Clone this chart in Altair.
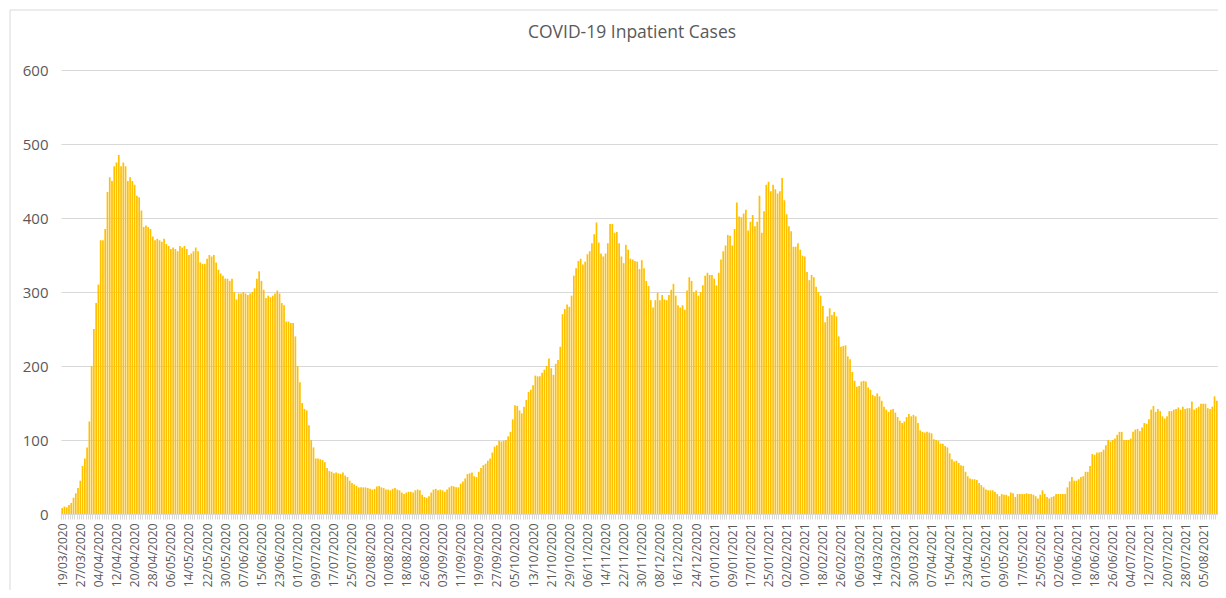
import json
import altair as alt
import pandas as pd

# ---- data (daily inpatient cases) ----
start_date = "2020-03-19"
chart_title = "COVID-19 Inpatient Cases"

cases_wave1 = [
    8, 10, 9, 12, 15, 22, 28, 35, 45, 65,
    75, 90, 125, 200, 250, 285, 310, 370, 370, 385,
    435, 455, 450, 470, 475, 485, 470, 475, 470, 450,
    455, 450, 445, 430, 428, 410, 388, 390, 388, 385,
    375, 370, 372, 370, 368, 372, 365, 362, 358, 360,
    358, 355, 362, 360, 362, 358, 350, 352, 355, 360,
    355, 340, 338, 338, 345, 350, 348, 350, 340, 330,
    325, 322, 318, 318, 315, 318, 300, 290, 298, 298,
    300, 298, 296, 298, 300, 305, 318, 328, 315, 303,
    292, 295, 293, 295, 298, 302, 298, 285, 282, 260,
    260, 258, 258, 240, 200, 178, 150, 142, 140, 120,
    100, 90, 75, 75, 74, 73, 70, 62, 58, 57,
    55, 56, 55, 54, 56, 52, 50, 45, 42, 40,
    38, 36, 36, 36,
]

cases_summer_2020 = [
    36, 35, 34, 33, 34, 37, 38, 36, 35, 33,
    33, 32, 34, 35, 33, 32, 29, 27, 29, 30,
    30, 29, 32, 33, 32, 26, 23, 22, 24, 29,
    33, 34, 32, 33, 32, 30, 33, 36, 38, 37, 36,
    36, 41, 44, 48, 54, 55, 56, 51, 50, 57,
    62, 66, 68, 72, 75, 83, 91, 93, 99, 98,
    99, 100, 105, 111, 128, 147, 146, 140, 136, 145, 154,
    165, 168, 174, 187, 186, 186, 191, 195, 200, 210,
    197, 188, 203, 208, 226,
]

cases_nov_2020 = [
    270, 277, 283, 280, 295, 322, 332, 342, 345, 337,
    341, 351, 355, 366, 378, 394, 367, 352, 348, 352,
    366, 392, 392, 380, 381, 366, 348, 339, 364, 357,
    345, 344,
]

cases_winter = [
    342, 341, 331, 343, 332, 315, 308, 289, 279, 289,
    299, 289, 296, 290, 289, 296, 303, 311, 295, 282,
    279, 282, 276, 302, 320, 315, 300, 302, 295, 300,
    309, 322, 326, 323, 323, 318, 309, 326, 344, 355,
    363, 377, 376, 363, 385, 421, 402, 401, 406, 411,
    383, 395, 404, 389, 395, 430, 380, 409, 445, 449,
    436, 445, 439, 433, 436, 454, 424, 405, 389, 382,
    361, 361, 366, 357, 349, 348, 327, 316, 323, 320,
    307, 300, 295, 281, 259, 267, 278, 269, 273, 267,
    240, 226, 227, 228, 213, 209, 192, 180, 172, 173,
    179, 180, 179, 171, 168, 161, 159, 163, 159, 153,
    145, 141, 138, 141, 142, 137, 131, 126, 123, 125,
    131, 135, 132,
]

cases_2021 = [
    134, 132, 123, 113, 111, 110, 111, 110, 109, 101,
    100, 99, 95, 95, 92, 90, 82, 74, 71, 72,
    69, 66, 65, 57, 51, 48, 47, 47, 46, 42,
    39, 36, 33, 32, 32, 32, 30, 27, 24, 27,
    26, 26, 24, 29, 28, 23, 27, 27, 27, 27,
    28, 27, 27, 26, 24, 21, 26, 32, 27, 23,
    21, 23, 24, 27, 27, 27, 27, 27, 36, 44,
    50, 45, 45, 47, 50, 51, 57, 57, 65, 81,
    80, 83, 83, 84, 87, 93, 100, 98, 100, 102,
    107, 111, 111, 100, 100, 100, 102, 111, 114, 115,
    112, 117, 123, 122, 128, 141, 146, 138, 142, 139,
    132, 129, 132, 139, 139, 141, 142, 144, 141, 145,
    142, 143, 143, 152, 141, 143, 145, 149, 149, 149,
    143, 142, 145, 159, 153,
]

cases = cases_wave1 + cases_summer_2020 + cases_nov_2020 + cases_winter + cases_2021
dates = pd.date_range(start_date, periods=len(cases), freq="D").strftime("%d/%m/%Y").tolist()
tick_labels = dates[::8]
y_ticks = [0, 100, 200, 300, 400, 500, 600]

df = pd.DataFrame({"date": dates, "cases": cases})

TEXT = "#595959"
GRID = "#D9D9D9"
FONT = "Open Sans"

label_expr = "indexof(" + json.dumps(tick_labels) + ", datum.label) >= 0 ? datum.label : ''"

bars = alt.Chart(df).mark_bar(color="#FFC000").encode(
    x=alt.X(
        "date:O",
        sort=None,
        scale=alt.Scale(paddingInner=0.25, paddingOuter=0.15),
        axis=alt.Axis(
            title=None,
            labelAngle=270,
            labelExpr=label_expr,
            labelOverlap=False,
            labelFontSize=12,
            labelFont=FONT,
            labelColor=TEXT,
            labelPadding=4,
            tickBand="extent",
            tickColor=GRID,
            tickSize=5,
            domainColor=GRID,
            grid=False,
        ),
    ),
    y=alt.Y(
        "cases:Q",
        scale=alt.Scale(domain=[0, 600]),
        axis=alt.Axis(
            title=None,
            values=y_ticks,
            domain=False,
            ticks=False,
            gridColor=GRID,
            labelPadding=13,
            labelFontSize=15,
            labelFont=FONT,
            labelColor=TEXT,
        ),
    ),
)

dummy = pd.DataFrame({"k": [0]})
frame_left = alt.Chart(dummy).mark_rule(color=GRID, strokeWidth=1).encode(
    x=alt.value(-51), y=alt.value(-60), y2=alt.value(600)
)
frame_top = alt.Chart(dummy).mark_rule(color=GRID, strokeWidth=1).encode(
    x=alt.value(-51), x2=alt.value(1300), y=alt.value(-60)
)
title_text = alt.Chart(dummy).mark_text(
    text=chart_title,
    font=FONT,
    fontSize=17.5,
    color=TEXT,
    align="center",
    baseline="middle",
).encode(x=alt.value(571), y=alt.value(-37))

chart = (
    alt.layer(frame_left, frame_top, title_text, bars)
    .properties(
        width=1157,
        height=444,
        padding={"left": 53, "top": 62, "right": 0, "bottom": 76},
        autosize=alt.AutoSizeParams(type="none"),
    )
    .configure_view(stroke=None)
)

chart.save("out.html", embed_options={"renderer": "svg", "actions": False})
